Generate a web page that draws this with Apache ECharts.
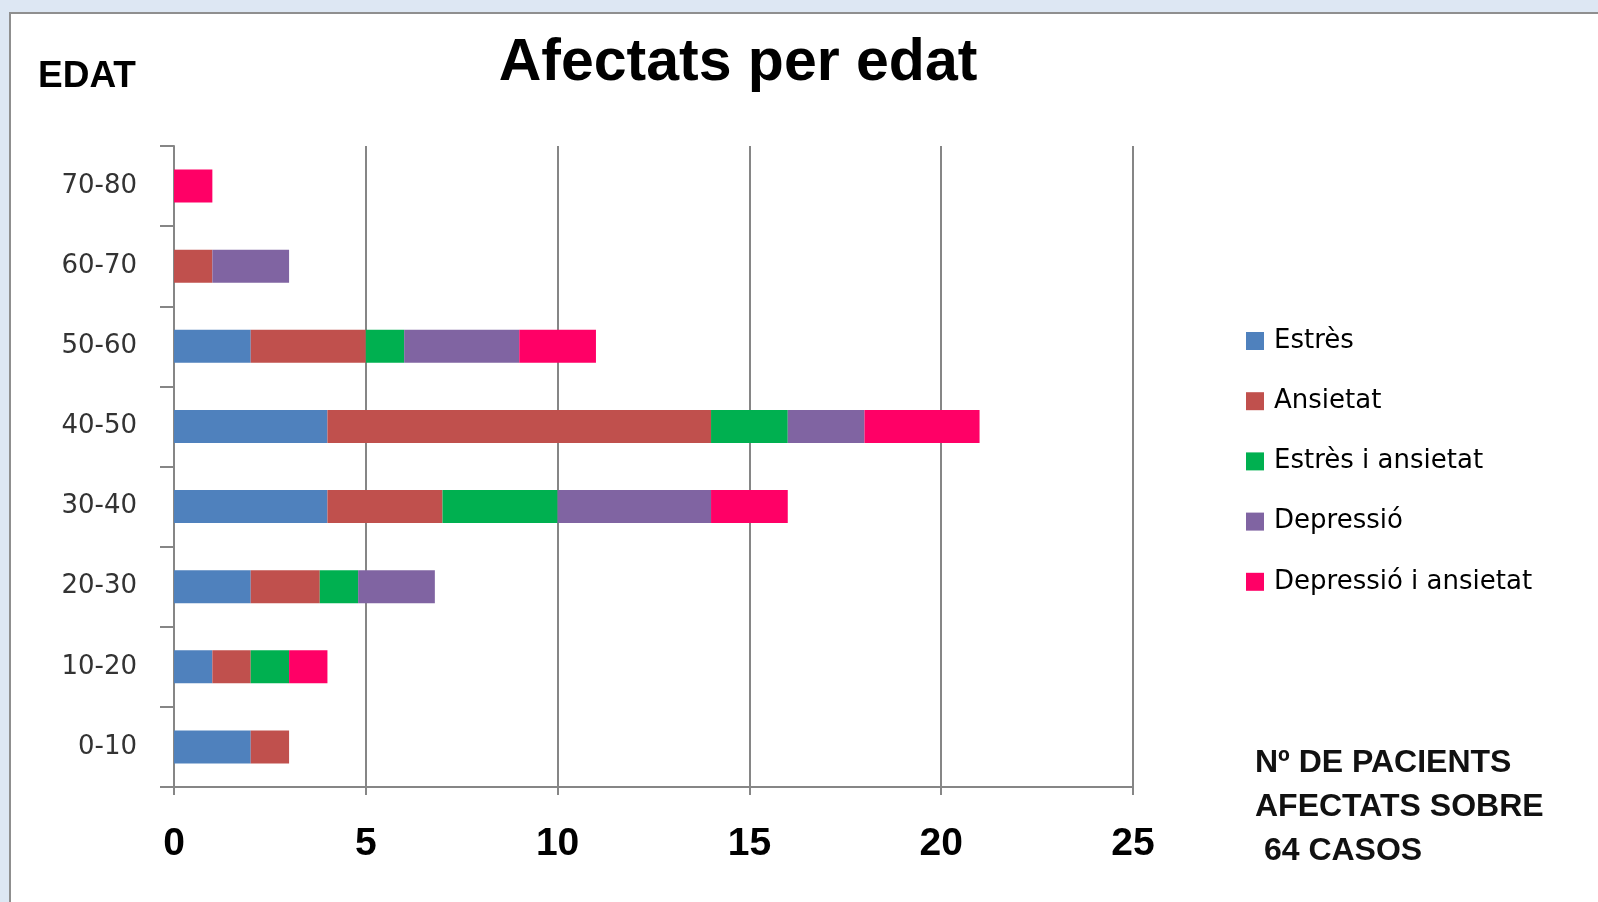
<!DOCTYPE html>
<html>
<head>
<meta charset="utf-8">
<script src="https://cdn.jsdelivr.net/npm/echarts@6/dist/echarts.min.js"></script>
<style>
html,body{margin:0;padding:0;background:#dde7f3;}
#chart{width:1598px;height:902px;}
</style>
</head>
<body>
<div id="chart"></div>
<script>
const ageGroups = ['0-10','10-20','20-30','30-40','40-50','50-60','60-70','70-80'];
const seriesNames = ['Estrès','Ansietat','Estrès i ansietat','Depressió','Depressió i ansietat'];
const estres      = [2, 1, 2,   4, 4,  2, 0, 0];
const ansietat    = [1, 1, 1.8, 3, 10, 3, 1, 0];
const estresAns   = [0, 1, 1,   3, 2,  1, 0, 0];
const depressio   = [0, 0, 2,   4, 2,  3, 2, 0];
const depAns      = [0, 1, 0,   2, 3,  2, 0, 1];
const xTicks = [0, 5, 10, 15, 20, 25];
const titleText = 'Afectats per edat';
const yAxisTitle = 'EDAT';
const noteLines = ['Nº DE PACIENTS', 'AFECTATS SOBRE', ' 64 CASOS'];

const colors = ['#4f81bd','#c0504d','#00b050','#8064a2','#ff0066'];
const allValues = [estres, ansietat, estresAns, depressio, depAns];

const chart = echarts.init(document.getElementById('chart'));
const series = seriesNames.map((name, i) => ({
  name: name,
  type: 'bar',
  stack: 'total',
  data: allValues[i],
  barWidth: 33,
  itemStyle: { color: colors[i] },
  emphasis: { disabled: true }
}));

chart.setOption({
  animation: false,
  backgroundColor: '#dde7f3',
  graphic: [
    { type: 'rect', left: 9, top: 12, z: -10,
      shape: { width: 1600, height: 900 },
      style: { fill: '#ffffff', stroke: '#8f8f8f', lineWidth: 2 } },
    { type: 'text', left: 38, top: 58, z: 10,
      style: { text: yAxisTitle, font: 'bold 37px "Liberation Sans"', fill: '#000' } },
    { type: 'text', x: 738, y: 64, z: 10,
      style: { text: titleText, font: 'bold 59px "Liberation Sans"', fill: '#000',
               align: 'center', verticalAlign: 'middle' } },
    { type: 'text', left: 1255, top: 741, z: 10,
      style: { text: noteLines.join('\n'), font: 'bold 32px "Liberation Sans"', fill: '#111',
               lineHeight: 44 } }
  ],
  legend: {
    orient: 'vertical',
    left: 1241,
    top: 323,
    itemWidth: 18,
    itemHeight: 18,
    itemGap: 34.2,
    icon: 'rect',
    data: seriesNames,
    textStyle: { fontFamily: 'DejaVu Sans', fontSize: 26, color: '#000', lineHeight: 25, padding: [0,0,0,5] }
  },
  grid: { left: 174, right: 465, top: 146, bottom: 115, containLabel: false },
  xAxis: {
    type: 'value',
    min: xTicks[0],
    max: xTicks[xTicks.length - 1],
    interval: 5,
    axisLine: { show: true, lineStyle: { color: '#868686', width: 2 } },
    axisTick: { show: true, length: 8, lineStyle: { color: '#868686', width: 2 } },
    splitLine: { show: true, lineStyle: { color: '#868686', width: 2 } },
    axisLabel: { margin: 38, fontFamily: 'Liberation Sans', fontWeight: 'bold', fontSize: 39, color: '#000' }
  },
  yAxis: {
    type: 'category',
    data: ageGroups,
    axisLine: { show: true, lineStyle: { color: '#868686', width: 2 } },
    axisTick: { show: true, length: 14, lineStyle: { color: '#868686', width: 2 } },
    axisLabel: { margin: 37, fontFamily: 'DejaVu Sans', fontSize: 26, color: '#333' }
  },
  series: series
});
</script>
</body>
</html>
